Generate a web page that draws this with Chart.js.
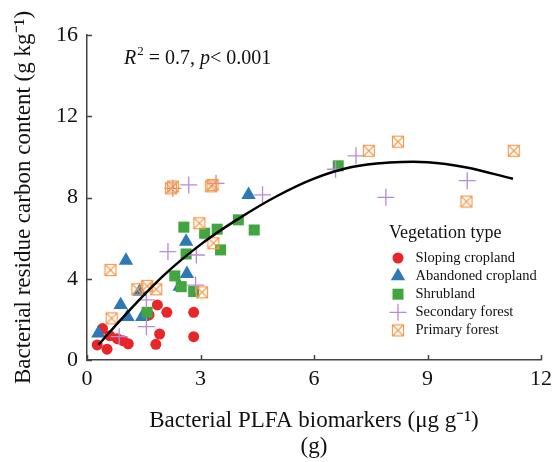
<!DOCTYPE html>
<html>
<head>
<meta charset="utf-8">
<script src="https://cdn.jsdelivr.net/npm/chart.js@4/dist/chart.umd.min.js"></script>
<style>
  html, body { margin: 0; padding: 0; background: #fff; }
  #wrap { width: 558px; height: 462px; }
</style>
</head>
<body>
<div id="wrap"><canvas id="chart" width="558" height="462"></canvas></div>
<script>
// ---- data ----
const xTicks = [0, 3, 6, 9, 12];
const yTicks = [0, 4, 8, 12, 16];

const slopingX = [0.27, 0.53, 0.41, 0.60, 0.80, 0.95, 1.09, 1.86, 1.64, 2.11, 1.92, 1.82, 2.82, 2.82];
const slopingY = [0.74, 0.53, 1.55, 1.20, 1.05, 0.95, 0.80, 2.71, 2.22, 2.35, 1.28, 0.77, 2.35, 1.15];

const abandonedX = [0.30, 1.03, 0.89, 1.07, 1.39, 1.46, 2.62, 2.64, 2.45, 4.27];
const abandonedY = [1.31, 4.89, 2.71, 2.13, 3.37, 2.13, 5.83, 4.24, 3.61, 8.13];

const shrubX = [1.59, 2.32, 2.49, 2.62, 2.56, 2.82, 3.11, 3.44, 3.53, 4.00, 4.42, 6.64];
const shrubY = [2.35, 4.14, 3.61, 5.22, 6.54, 3.37, 6.24, 6.44, 5.42, 6.90, 6.40, 9.56];

const secondaryX = [0.85, 1.57, 1.57, 2.14, 2.89, 2.87, 2.27, 2.69, 3.41, 4.64, 6.57, 7.11, 7.90, 10.05];
const secondaryY = [1.15, 1.64, 2.96, 5.34, 5.17, 3.69, 8.45, 8.62, 8.70, 8.13, 9.39, 10.05, 8.01, 8.83];

const primaryX = [0.65, 0.62, 1.33, 1.59, 1.83, 2.97, 3.34, 3.04, 2.27, 2.22, 3.32, 3.28, 7.45, 8.22, 11.28, 10.03];
const primaryY = [2.05, 4.43, 3.48, 3.64, 3.48, 6.73, 5.75, 3.33, 8.54, 8.45, 8.62, 8.55, 10.30, 10.75, 10.30, 7.80];

// fitted curve
const fitX = [0.30, 1, 2, 3, 4, 5, 6, 7, 8, 9, 10, 11.26];
const fitY = [0.74, 2.20, 4.12, 5.68, 6.95, 8.05, 8.93, 9.50, 9.72, 9.74, 9.49, 8.92];

const seriesNames = ["Sloping cropland", "Abandoned cropland", "Shrubland", "Secondary forest", "Primary forest"];
const legendTitle = "Vegetation type";

// ---- styling ----
const SERIF = "'Liberation Serif', 'Times New Roman', serif";
const RED = "#e8262a", BLUE = "#2f78b6", GREEN = "#41a63f", PURPLE = "#b98ad6", ORANGE = "#f59a4e";

const pts = (xs, ys) => xs.map((x, i) => ({ x, y: ys[i] }));

// square with an X inside, for primary forest
function boxCross(size) {
  const c = document.createElement("canvas");
  c.width = size + 2; c.height = size + 2;
  const g = c.getContext("2d");
  g.strokeStyle = ORANGE; g.lineWidth = 1.2;
  const o = 1.5, s = size - 1;
  g.strokeRect(o, o, s, s);
  g.beginPath();
  g.moveTo(o, o); g.lineTo(o + s, o + s);
  g.moveTo(o + s, o); g.lineTo(o, o + s);
  g.stroke();
  return c;
}
const boxImg = boxCross(12);

// legend marker drawing (same shapes as the points)
function drawMarker(ctx, kind, x, y) {
  ctx.save();
  if (kind === 0) {
    ctx.fillStyle = RED; ctx.beginPath(); ctx.arc(x, y, 5.5, 0, Math.PI * 2); ctx.fill();
  } else if (kind === 1) {
    const r = 8.3;
    ctx.fillStyle = BLUE; ctx.beginPath();
    ctx.moveTo(x, y - r);
    ctx.lineTo(x + r * Math.sin(2 * Math.PI / 3), y + r / 2);
    ctx.lineTo(x - r * Math.sin(2 * Math.PI / 3), y + r / 2);
    ctx.closePath(); ctx.fill();
  } else if (kind === 2) {
    ctx.fillStyle = GREEN; ctx.fillRect(x - 5.5, y - 5.5, 11, 11);
  } else if (kind === 3) {
    ctx.strokeStyle = PURPLE; ctx.lineWidth = 1.3; ctx.beginPath();
    ctx.moveTo(x - 8.5, y); ctx.lineTo(x + 8.5, y);
    ctx.moveTo(x, y - 8.5); ctx.lineTo(x, y + 8.5); ctx.stroke();
  } else {
    ctx.drawImage(boxImg, x - boxImg.width / 2, y - boxImg.height / 2);
  }
  ctx.restore();
}

// inward ticks, R2 label and the legend block
const decorations = {
  id: "decorations",
  afterDraw(chart) {
    const { ctx, chartArea: a, scales: { x, y } } = chart;
    ctx.save();
    ctx.strokeStyle = "#444"; ctx.lineWidth = 1.5;
    ctx.beginPath();
    yTicks.forEach(v => { const py = Math.round(y.getPixelForValue(v)) + 0.5; ctx.moveTo(a.left, py); ctx.lineTo(a.left + 5, py); });
    xTicks.forEach(v => { const px = Math.round(x.getPixelForValue(v)) + 0.5; ctx.moveTo(px, a.bottom); ctx.lineTo(px, a.bottom - 5); });
    ctx.stroke();

    // R^2 annotation
    ctx.fillStyle = "#111";
    ctx.textBaseline = "alphabetic";
    let tx = a.left + 37; const ty = a.top + 29;
    const put = (t, font, dy = 0) => { ctx.font = font; ctx.fillText(t, tx, ty + dy); tx += ctx.measureText(t).width; };
    put("R", "italic 20px " + SERIF);
    tx += 1;
    put("2", "13px " + SERIF, -9);
    put(" = 0.7, ", "20px " + SERIF);
    put("p", "italic 20px " + SERIF);
    put("< 0.001", "20px " + SERIF);

    // legend
    const lx = 389, ly = 233;
    ctx.font = "18px " + SERIF;
    ctx.textBaseline = "middle";
    ctx.fillText(legendTitle, lx, ly);
    ctx.font = "14.5px " + SERIF;
    seriesNames.forEach((name, i) => {
      const rowY = 258 + i * 18.1;
      drawMarker(ctx, i, 398, rowY);
      ctx.fillStyle = "#111";
      ctx.fillText(name, 415.5, rowY);
    });
    ctx.restore();
  }
};

const fixTicks = vals => scale => { scale.ticks = vals.map(v => ({ value: v })); };

new Chart(document.getElementById("chart").getContext("2d"), {
  type: "scatter",
  data: {
    datasets: [
      { label: "fit", data: pts(fitX, fitY), showLine: true, pointRadius: 0, borderColor: "#000",
        borderWidth: 2.5, tension: 0.4, fill: false, order: 0 },
      { label: seriesNames[4], data: pts(primaryX, primaryY), pointStyle: boxImg, pointRadius: 7, order: 1 },
      { label: seriesNames[3], data: pts(secondaryX, secondaryY), pointStyle: "cross", pointRadius: 8.5,
        borderColor: PURPLE, pointBorderWidth: 1.3, order: 2 },
      { label: seriesNames[2], data: pts(shrubX, shrubY), pointStyle: "rect", pointRadius: 7.8,
        backgroundColor: GREEN, borderWidth: 0, pointBorderWidth: 0, order: 3 },
      { label: seriesNames[1], data: pts(abandonedX, abandonedY), pointStyle: "triangle", pointRadius: 8.3,
        backgroundColor: BLUE, borderWidth: 0, pointBorderWidth: 0, order: 4 },
      { label: seriesNames[0], data: pts(slopingX, slopingY), pointStyle: "circle", pointRadius: 5.5,
        backgroundColor: RED, borderWidth: 0, pointBorderWidth: 0, order: 5 }
    ]
  },
  options: {
    responsive: false,
    animation: false,
    devicePixelRatio: 1,
    layout: { padding: { left: 0, right: 15, top: 35, bottom: 0 } },
    plugins: { legend: { display: false }, tooltip: { enabled: false } },
    elements: { point: { hoverRadius: 0 } },
    scales: {
      x: {
        type: "linear", min: 0, max: 12,
        afterBuildTicks: fixTicks(xTicks),
        afterFit: s => { s.height = 102; },
        grid: { drawOnChartArea: false, drawTicks: false },
        border: { display: true, color: "#444", width: 1.5 },
        ticks: { padding: 6, color: "#111", font: { family: SERIF, size: 22 } },
        title: { display: true, text: ["Bacterial PLFA biomarkers (\u03bcg g\u207b\u00b9)", "(g)"], color: "#111",
          font: { family: SERIF, size: 23, lineHeight: 1.13 }, padding: { top: 0, bottom: 2 } }
      },
      y: {
        type: "linear", min: 0, max: 16,
        afterBuildTicks: fixTicks(yTicks),
        afterFit: s => { s.width = 87; },
        grid: { drawOnChartArea: false, drawTicks: false },
        border: { display: true, color: "#444", width: 1.5 },
        ticks: { padding: 9, color: "#111", font: { family: SERIF, size: 22 } },
        title: { display: true, text: "Bacterial residue carbon content (g kg\u207b\u00b9)", color: "#111",
          font: { family: SERIF, size: 23, lineHeight: 1.13 }, padding: { top: 11, bottom: 0 } }
      }
    }
  },
  plugins: [decorations]
});
</script>
</body>
</html>
